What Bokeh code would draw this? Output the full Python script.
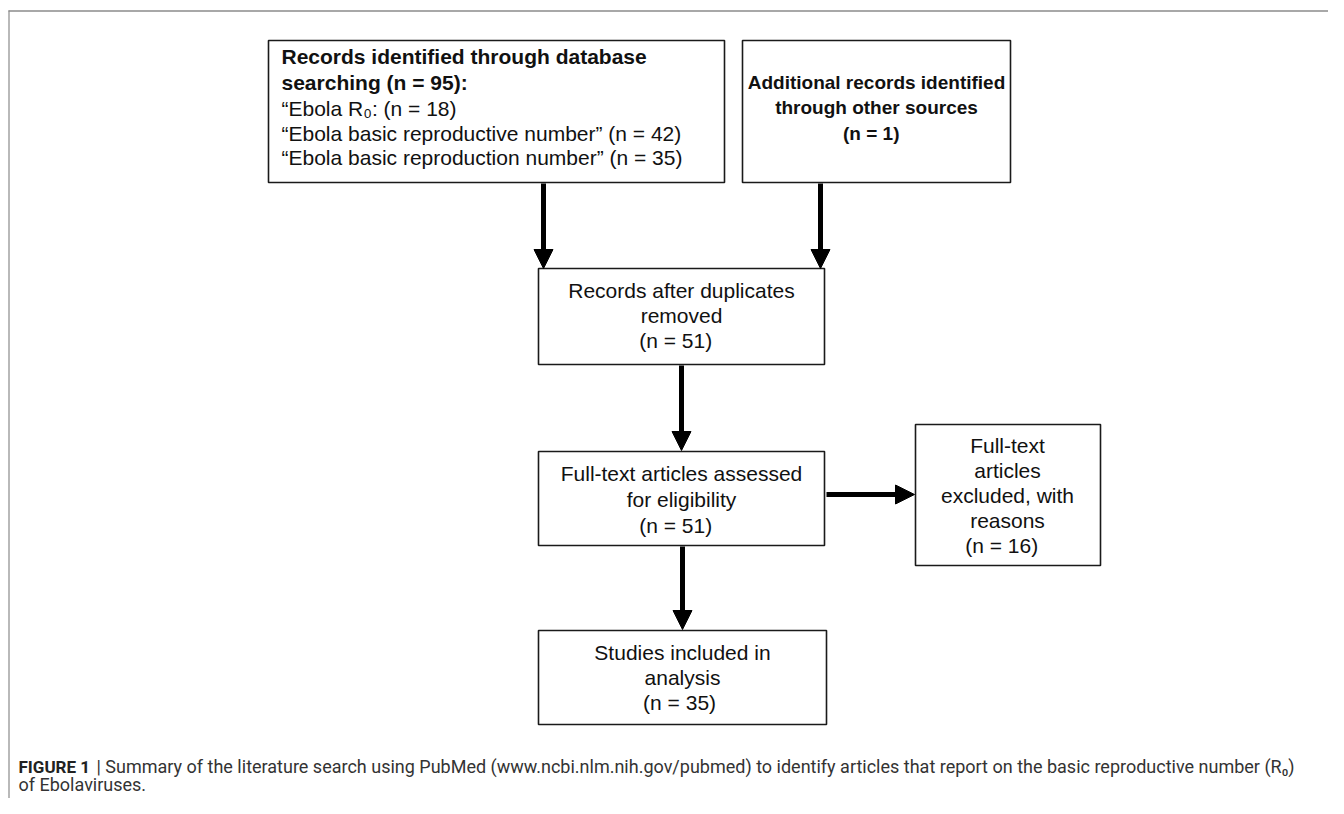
from bokeh.plotting import figure
from bokeh.models import Range1d, ColumnDataSource, Arrow, NormalHead
from bokeh.core.properties import value
from bokeh.embed import file_html
from bokeh.resources import INLINE

# ---------------- data ----------------
search_terms = ["\u201cEbola R\u2080:", "\u201cEbola basic reproductive number\u201d",
                "\u201cEbola basic reproduction number\u201d"]
search_counts = [18, 42, 35]
db_total = 95
other_total = 1
after_dupes = 51
assessed = 51
excluded = 16
included = 35

caption_bold = "FIGURE 1"
caption_rest = ("| Summary of the literature search using PubMed (www.ncbi.nlm.nih.gov/pubmed) "
                "to identify articles that report on the basic reproductive number (R\u2080)")
caption_line2 = "of Ebolaviruses."

# ---------------- layout (reference pixel coords) ----------------
W, H = 1328, 798
p = figure(width=W, height=H, x_range=Range1d(0, W), y_range=Range1d(H, 0),
           output_backend="svg", toolbar_location=None, x_axis_type=None, y_axis_type=None,
           min_border=0, outline_line_color=None, background_fill_color="white",
           border_fill_color="white")
p.grid.visible = False

# outer frame
p.segment(x0=[8], y0=[10.5], x1=[W], y1=[10.5], line_color="#a8a8a8", line_width=2)
p.segment(x0=[8.5], y0=[10], x1=[8.5], y1=[H], line_color="#8a8a8a", line_width=1.2)

# boxes: left, right, top, bottom
boxes = dict(
    left=[268, 742, 538, 538, 915, 538],
    right=[724, 1010, 824, 824, 1100, 826],
    top=[40, 40, 268, 451, 424, 630],
    bottom=[182, 182, 364, 545, 565, 724],
)
p.quad(source=ColumnDataSource(boxes), left="left", right="right", top="top", bottom="bottom",
       fill_color="white", line_color="#1a1a1a", line_width=1.6)

FONT = value("Liberation Sans")
FS = "21px"

def txt(xs, ys, texts, bold=False, align="center", size=FS, font=FONT, color="#111111", style=None):
    src = ColumnDataSource(dict(x=xs, y=ys, t=texts))
    p.text(x="x", y="y", text="t", source=src, text_font=font, text_font_size=size,
           text_align=align, text_baseline="middle", text_color=color,
           text_font_style=style if style else ("bold" if bold else "normal"))

# box 1
txt([281, 281], [56, 82], ["Records identified through database",
                           f"searching (n =  {db_total}):"], bold=True, align="left")
txt([281, 281, 281], [108, 133, 157],
    [f"{search_terms[0]} (n = {search_counts[0]})",
     f"{search_terms[1]} (n = {search_counts[1]})",
     f"{search_terms[2]} (n = {search_counts[2]})"], align="left")

# box 2
txt([876, 876, 876], [82, 107, 133],
    ["Additional records identified", "through other sources", f"(n =   {other_total})"],
    bold=True, size="19px")

# box 3
txt([681, 681, 681], [290, 315, 340], ["Records after duplicates", "removed", f"(n =   {after_dupes})"])
# box 4
txt([681, 681, 681], [473, 499, 525], ["Full-text articles assessed", "for eligibility", f"(n =   {assessed})"])
# box 5
txt([1007] * 5, [445, 470, 495, 520, 545],
    ["Full-text", "articles", "excluded, with", "reasons", f"(n =   {excluded})"])
# box 6
txt([682, 682, 682], [652, 677, 702], ["Studies included in", "analysis", f"(n =  {included})"])

# arrows
arrows = [
    (543, 183, 543, 268),
    (820, 183, 820, 268),
    (681, 365, 681, 450),
    (826, 494, 914, 494),
    (682, 546, 682, 629),
]
for x0, y0, x1, y1 in arrows:
    p.add_layout(Arrow(end=NormalHead(size=19, fill_color="black", line_color="black", line_width=1),
                       x_start=x0, y_start=y0, x_end=x1, y_end=y1,
                       line_color="black", line_width=5))

# caption
CF = value("Roboto")
txt([18], [766], [caption_bold], bold=True, align="left", size="17px", font=CF, color="#222222")
txt([96], [766], [caption_rest], align="left", size="18px", font=CF, color="#333333")
txt([18], [784], [caption_line2], align="left", size="18px", font=CF, color="#333333")

open("out.html", "w").write(file_html(p, INLINE))
